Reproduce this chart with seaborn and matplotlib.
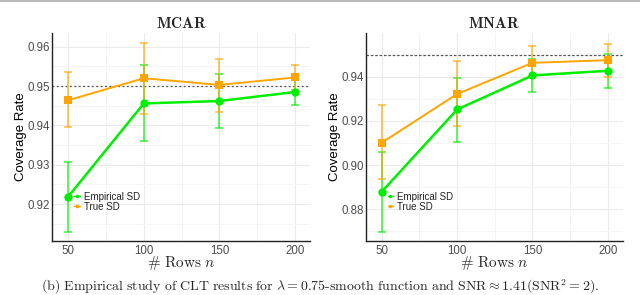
import numpy as np
import pandas as pd
import matplotlib
matplotlib.use("Agg")
import matplotlib.pyplot as plt
import seaborn as sns
from matplotlib.lines import Line2D

rows = [50, 100, 150, 200]
methods = ["Empirical SD", "True SD"]

mcar_emp = [0.9219, 0.9456, 0.9462, 0.9485]
mcar_emp_lo = [0.9128, 0.9360, 0.9393, 0.9453]
mcar_emp_hi = [0.9308, 0.9553, 0.9530, 0.9518]
mcar_true = [0.9464, 0.9520, 0.9503, 0.9522]
mcar_true_lo = [0.9395, 0.9429, 0.9435, 0.9490]
mcar_true_hi = [0.9535, 0.9610, 0.9570, 0.9553]

mnar_emp = [0.8880, 0.9252, 0.9406, 0.9427]
mnar_emp_lo = [0.8696, 0.9105, 0.9330, 0.9350]
mnar_emp_hi = [0.9060, 0.9395, 0.9480, 0.9505]
mnar_true = [0.9102, 0.9322, 0.9463, 0.9475]
mnar_true_lo = [0.8937, 0.9176, 0.9403, 0.9400]
mnar_true_hi = [0.9270, 0.9470, 0.9540, 0.9550]

nominal = 0.95

GREEN = "#00EE00"
ORANGE = "#FFA500"

sns.set_theme(style="whitegrid")
plt.rcParams["mathtext.fontset"] = "cm"
plt.rcParams["font.family"] = ["Liberation Sans", "DejaVu Sans"]

fig = plt.figure(figsize=(6.4, 2.95), dpi=100)
ax1 = fig.add_axes([52/640, 1 - 240.7/295, 258/640, 207.7/295])
ax2 = fig.add_axes([365.7/640, 1 - 240.7/295, 257/640, 207.7/295])

def panel(ax, title, emp, elo, ehi, tru, tlo, thi, ylim, yticks, yminor, dash):
    df = pd.DataFrame({
        "n": rows * 2,
        "rate": emp + tru,
        "lo": elo + tlo,
        "hi": ehi + thi,
        "method": [methods[0]] * 4 + [methods[1]] * 4,
    })
    ax.axhline(nominal, color="#555555", ls=dash, lw=0.9, zorder=1)
    pal = {methods[0]: GREEN, methods[1]: ORANGE}
    for m in methods:
        sub = df[df["method"] == m]
        ax.errorbar(sub["n"], sub["rate"],
                    yerr=[sub["rate"] - sub["lo"], sub["hi"] - sub["rate"]],
                    fmt="none", ecolor=pal[m], alpha=0.65, elinewidth=1.3,
                    capsize=2.8, capthick=1.3, zorder=2)
    sns.lineplot(data=df, x="n", y="rate", hue="method", style="method",
                 markers={methods[0]: "o", methods[1]: "s"}, dashes=False,
                 palette=pal, ax=ax, lw=1.4, markersize=6,
                 markeredgewidth=0, legend=False, zorder=3)
    for line in ax.get_lines():
        if line.get_color() == GREEN:
            line.set_linewidth(1.8)
    ax.set_xlim(39.3, 209.9)
    ax.set_ylim(*ylim)
    ax.set_xticks([50, 100, 150, 200])
    ax.set_xticks([75, 125, 175], minor=True)
    ax.set_yticks(yticks)
    ax.set_yticks(yminor, minor=True)
    ax.set_yticklabels([f"{t:.2f}" for t in yticks])
    ax.grid(True, which="major", color="#EBEBEB", lw=0.8)
    ax.grid(True, which="minor", color="#F3F3F3", lw=0.6)
    ax.set_facecolor("white")
    for s in ["top", "right"]:
        ax.spines[s].set_visible(False)
    for s in ["left", "bottom"]:
        ax.spines[s].set_visible(True)
        ax.spines[s].set_color("#222222")
        ax.spines[s].set_linewidth(1.0)
    ax.tick_params(axis="both", which="both", length=0, labelsize=8.3,
                   labelcolor="#4D4D4D")
    ax.tick_params(axis="y", pad=1.5)
    ax.tick_params(axis="x", pad=3)
    ax.set_title(r"$\mathbf{" + title + "}$", fontsize=11, pad=3.5)
    ax.set_xlabel(r"$\#\ \mathrm{Rows}\ n$", fontsize=11, labelpad=-2)
    ax.set_ylabel("Coverage Rate", fontsize=9.5, color="black", labelpad=0)
    handles = [Line2D([0], [0], color=GREEN, lw=1, marker="o", markersize=1.5),
               Line2D([0], [0], color=ORANGE, lw=1, marker="s", markersize=1.5)]
    leg = ax.legend(handles, methods, loc="lower left",
                    bbox_to_anchor=(0.085, 0.14), frameon=False, fontsize=7.0,
                    handlelength=0.6, handletextpad=0.4, labelspacing=0.0,
                    borderpad=0, borderaxespad=0)
    for t in leg.get_texts():
        t.set_color("#222222")

panel(ax1, "MCAR", mcar_emp, mcar_emp_lo, mcar_emp_hi,
      mcar_true, mcar_true_lo, mcar_true_hi,
      (0.9107, 0.9635), [0.92, 0.93, 0.94, 0.95, 0.96],
      [0.915, 0.925, 0.935, 0.945, 0.955], (0, (1.5, 2)))
panel(ax2, "MNAR", mnar_emp, mnar_emp_lo, mnar_emp_hi,
      mnar_true, mnar_true_lo, mnar_true_hi,
      (0.8658, 0.9598), [0.88, 0.90, 0.92, 0.94],
      [0.87, 0.89, 0.91, 0.93, 0.95], (0, (2, 1.5)))

fig.text(0.5, 1 - 286.5/295,
         r"$\mathrm{(b)\ Empirical\ study\ of\ CLT\ results\ for\ }\lambda = 0.75\mathrm{\text{-}smooth\ function\ and\ SNR} \approx 1.41(\mathrm{SNR}^2 = 2)\mathrm{.}$",
         ha="center", va="center", fontsize=10)
fig.add_artist(Line2D([0, 1], [0.998, 0.998], transform=fig.transFigure,
                      color="#BBBBBB", lw=1.5))

fig.savefig("out.png", dpi=100)
